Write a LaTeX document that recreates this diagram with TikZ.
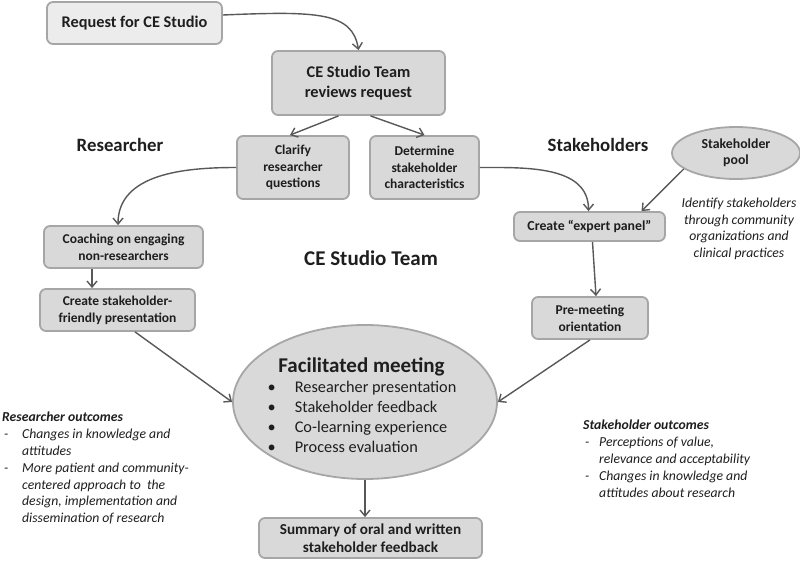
\documentclass[tikz,border=0pt]{standalone}
\usepackage{fontspec}
\setmainfont{Carlito}
\usetikzlibrary{arrows.meta,calc,shapes.geometric}
\definecolor{boxfill}{HTML}{D9D9D9}
\definecolor{boxfilllight}{HTML}{ECECEC}
\definecolor{boxline}{HTML}{A6A6A6}
\definecolor{arrowc}{HTML}{585858}
\definecolor{txt}{HTML}{1E1E1E}
\begin{document}
\begin{tikzpicture}[x=1pt,y=-1pt,
  box/.style={draw=boxline, fill=boxfill, line width=1.8pt, rounded corners=6pt,
    align=center, inner sep=0pt, text=txt},
  smallbox/.style={box, font=\fontsize{13.5}{16.7}\selectfont\bfseries},
  ovalbox/.style={ellipse, draw=boxline, fill=boxfill, line width=1.8pt, inner sep=0pt, text=txt, align=center},
  lbl/.style={text=txt, inner sep=0pt, font=\bfseries},
  note/.style={text=txt, inner sep=0pt, align=left, font=\fontsize{13.7}{16.8}\selectfont\itshape},
  arr/.style={draw=arrowc, line width=1.4pt, -{Straight Barb[length=6pt,width=10pt,line width=1.4pt]}},
]
\useasboundingbox (0,0) rectangle (800,561);

% boxes
\node[box, fill=boxfilllight, minimum width=175pt, minimum height=42pt,
  font=\fontsize{16.3}{18}\selectfont\bfseries] (req) at (134.5,23) {Request for CE Studio};
\node[box, minimum width=173pt, minimum height=64pt,
  font=\fontsize{16.3}{19.5}\selectfont\bfseries] (ceteam) at (358.5,83) {CE Studio Team\\reviews request};
\node[smallbox, minimum width=112pt, minimum height=63pt] (clarify) at (293,167.5) {Clarify\\researcher\\questions};
\node[smallbox, minimum width=109pt, minimum height=63pt] (determine) at (424.5,167.5) {Determine\\stakeholder\\characteristics};
\node[smallbox, minimum width=159pt, minimum height=42pt] (coaching) at (123.5,247) {Coaching on engaging\\non-researchers};
\node[smallbox, minimum width=155pt, minimum height=42pt] (create) at (117.5,310) {Create stakeholder-\\friendly presentation};
\node[smallbox, minimum width=151pt, minimum height=29pt,
  font=\fontsize{13.8}{16.7}\selectfont\bfseries] (expert) at (589.5,226.5) {Create “expert panel”};
\node[smallbox, minimum width=116pt, minimum height=42pt] (premeet) at (590,318) {Pre-meeting\\orientation};
\node[box, minimum width=223pt, minimum height=40pt,
  font=\fontsize{15.2}{18}\selectfont\bfseries] (summary) at (370.5,538) {Summary of oral and written\\stakeholder feedback};

% ellipses
\node[ovalbox, minimum width=128pt, minimum height=52pt,
  font=\fontsize{13.8}{16}\selectfont\bfseries] (pool) at (736,153) {Stakeholder\\pool};
\node[ovalbox, minimum width=264pt, minimum height=154pt] (meet) at (365,402) {};
\node[lbl, anchor=base, font=\fontsize{21}{24}\selectfont\bfseries] (meettitle) at (361.5,372) {Facilitated meeting};
\node[inner sep=0pt, text=txt, anchor=base west, font=\fontsize{16.3}{20}\selectfont] (meetlist) at (267.5,392.5) {%
  \begin{tabular}[t]{@{}l@{\hspace{19pt}}l@{}}
  \textbullet & Researcher presentation\\
  \textbullet & Stakeholder feedback\\
  \textbullet & Co-learning experience\\
  \textbullet & Process evaluation
  \end{tabular}};

% labels
\node[lbl, font=\fontsize{18.8}{20}\selectfont\bfseries] (lres) at (120,145) {Researcher};
\node[lbl, font=\fontsize{18.8}{20}\selectfont\bfseries] (lstake) at (598,145) {Stakeholders};
\node[lbl, font=\fontsize{21}{24}\selectfont\bfseries] (lteam) at (371,258) {CE Studio Team};

% notes
\node[note, align=center, anchor=north] (identify) at (739,197.5)
  {Identify stakeholders\\through community\\organizations and\\clinical practices};
\node[note, anchor=north west] (resout) at (2,412) {%
  \textbf{Researcher outcomes}\\
  \makebox[20pt][l]{\hspace{2pt}-}Changes in knowledge and\\
  \makebox[20pt][l]{}attitudes\\
  \makebox[20pt][l]{\hspace{2pt}-}More patient and community-\\
  \makebox[20pt][l]{}centered approach to\ \ the\\
  \makebox[20pt][l]{}design, implementation and\\
  \makebox[20pt][l]{}dissemination of research};
\node[note, anchor=north west] (stakeout) at (583,420) {%
  \textbf{Stakeholder outcomes}\\
  \makebox[16pt][l]{\hspace{2pt}-}Perceptions of value,\\
  \makebox[16pt][l]{}relevance and acceptability\\
  \makebox[16pt][l]{\hspace{2pt}-}Changes in knowledge and\\
  \makebox[16pt][l]{}attitudes about research};

% connectors
\draw[arr] ($(req.east)+(0,-8)$) .. controls +(95,-4) and +(-6,-38) .. (ceteam.north);
\draw[arr] ($(ceteam.south)+(-20,0)$) -- ($(clarify.north)+(-3,0)$);
\draw[arr] ($(ceteam.south)+(12,0)$) -- (determine.north);
\draw[arr] (clarify.west) to[out=180,in=90] ($(coaching.north)+(-5.5,0)$);
\draw[arr] (determine.east) to[out=0,in=90] ($(expert.north)+(-1,0)$);
\draw[arr] (pool.197) -- ($(expert.north)+(52,0)$);
\draw[arr] ($(expert.south)+(3,0)$) -- ($(premeet.north)+(6,0)$);
\draw[arr] ($(coaching.south)+(-31.5,0)$) -- ($(create.north)+(-25.5,0)$);
\draw[arr] ($(create.south)+(17.5,0)$) -- (meet.west);
\draw[arr] (premeet.south) -- (meet.east);
\draw[arr] (meet.south) -- (meet.south |- summary.north);
\end{tikzpicture}
\end{document}
